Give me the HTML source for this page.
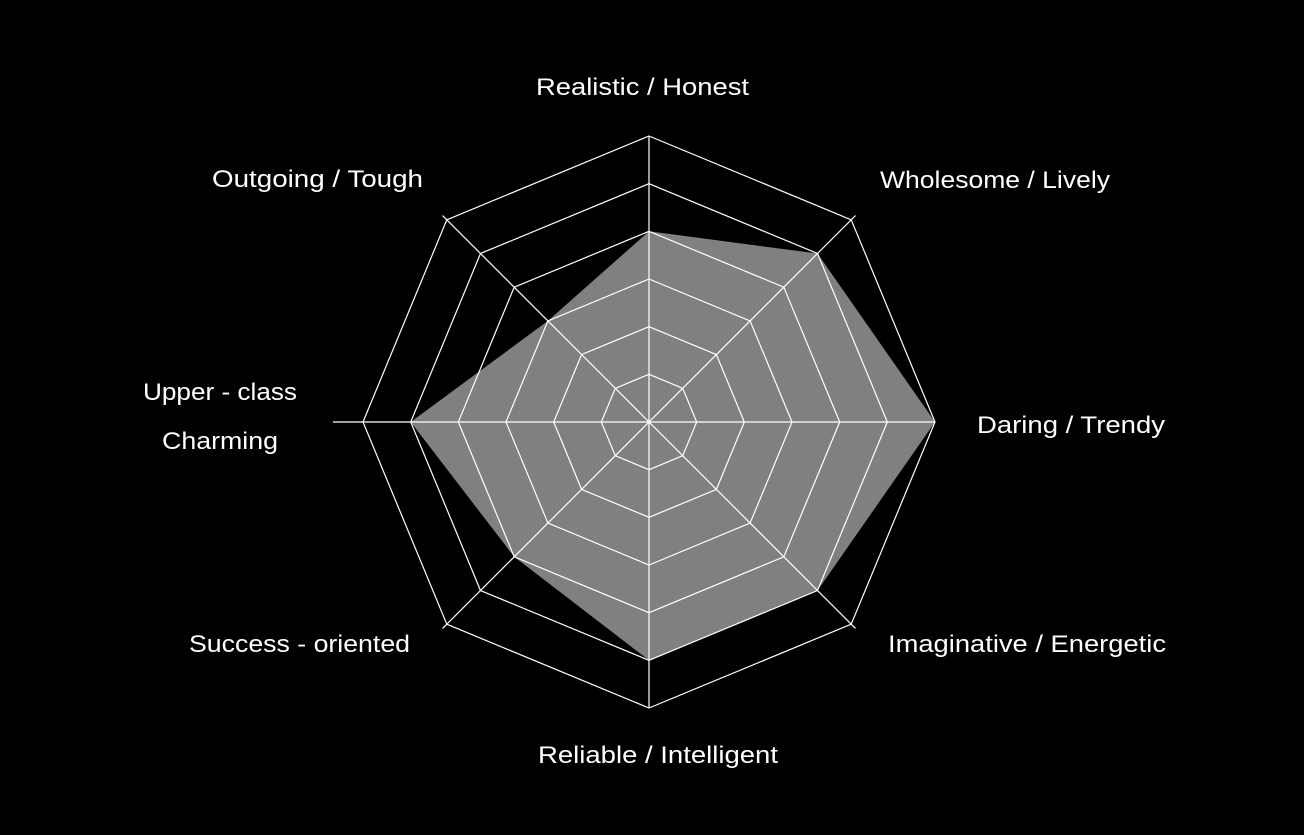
<!DOCTYPE html>
<html><head><meta charset="utf-8"><style>
html,body{margin:0;padding:0;background:#000;}
svg{display:block;}
text{font-family:"Liberation Sans",sans-serif;font-size:24px;fill:#fff;}
</style></head><body>
<svg id="s" width="1304" height="835" viewBox="0 0 1304 835">
<rect width="1304" height="835" fill="#000"/>
<polygon points="649,231.3 817.5,253.5 935,422 817.5,590.5 649,660.3 514.2,556.8 410.7,422 547.9,320.9" fill="#808080"/>
<g id="grid" stroke="#fff" stroke-width="1.2" fill="none"></g>
<text x="536" y="95" textLength="213" lengthAdjust="spacingAndGlyphs">Realistic / Honest</text>
<text x="880" y="188" textLength="230" lengthAdjust="spacingAndGlyphs">Wholesome / Lively</text>
<text x="977" y="433" textLength="188" lengthAdjust="spacingAndGlyphs">Daring / Trendy</text>
<text x="888" y="652" textLength="278" lengthAdjust="spacingAndGlyphs">Imaginative / Energetic</text>
<text x="538" y="763" textLength="240" lengthAdjust="spacingAndGlyphs">Reliable / Intelligent</text>
<text x="189" y="652" textLength="221" lengthAdjust="spacingAndGlyphs">Success - oriented</text>
<text x="143" y="400" textLength="154" lengthAdjust="spacingAndGlyphs">Upper - class</text>
<text x="162" y="449" textLength="116" lengthAdjust="spacingAndGlyphs">Charming</text>
<text x="212" y="187" textLength="211" lengthAdjust="spacingAndGlyphs">Outgoing / Tough</text>
</svg>
<script>
var g=document.getElementById('grid'),cx=649,cy=422,ns='http://www.w3.org/2000/svg';
for(var i=1;i<=6;i++){var r=286*i/6,p=[];for(var k=0;k<8;k++){var a=k*Math.PI/4;p.push((cx+r*Math.sin(a)).toFixed(1)+','+(cy-r*Math.cos(a)).toFixed(1));}
var e=document.createElementNS(ns,'polygon');e.setAttribute('points',p.join(' '));g.appendChild(e);}
for(var k=0;k<8;k++){var a=k*Math.PI/4,r=(k==6)?316:(k%2?292:286);var l=document.createElementNS(ns,'line');
l.setAttribute('x1',cx);l.setAttribute('y1',cy);l.setAttribute('x2',cx+r*Math.sin(a));l.setAttribute('y2',cy-r*Math.cos(a));g.appendChild(l);}
</script>
</body></html>
